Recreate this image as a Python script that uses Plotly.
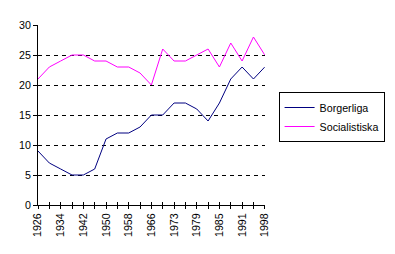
import plotly.graph_objects as go

years = ["1926", "1930", "1934", "1938", "1942", "1946", "1950", "1954", "1958", "1962",
         "1966", "1970", "1973", "1976", "1979", "1982", "1985", "1988", "1991", "1994", "1998"]
borgerliga = [9, 7, 6, 5, 5, 6, 11, 12, 12, 13, 15, 15, 17, 17, 16, 14, 17, 21, 23, 21, 23]
socialistiska = [21, 23, 24, 25, 25, 24, 24, 23, 23, 22, 20, 26, 24, 24, 25, 26, 23, 27, 24, 28, 25]
tick_text = [y if i % 2 == 0 else "" for i, y in enumerate(years)]
grid_vals = [5, 10, 15, 20, 25]

font = dict(family="Liberation Sans, Arial, sans-serif", size=10.7, color="black")

W, H = 395, 254
ML, MR, MT, MB = 38, 0, 25, 49
plot_w = 230
dom = [0, plot_w / (W - ML - MR)]

fig = go.Figure()
fig.add_trace(go.Scatter(x=years, y=borgerliga, name="Borgerliga", mode="lines",
                         line=dict(color="#000080", width=1)))
fig.add_trace(go.Scatter(x=years, y=socialistiska, name="Socialistiska", mode="lines",
                         line=dict(color="#FF00FF", width=1)))
# invisible trace to carry the cross-tick overlay axis
fig.add_trace(go.Scatter(x=years, y=borgerliga, xaxis="x2", yaxis="y2", mode="lines",
                         line=dict(width=0), showlegend=False, hoverinfo="skip", opacity=0))

fig.update_layout(
    width=W, height=H,
    margin=dict(l=ML, r=MR, t=MT, b=MB),
    paper_bgcolor="white", plot_bgcolor="white",
    font=font,
    showlegend=True,
    legend=dict(x=(282 - ML) / (W - ML - MR), y=(H - MB - 92) / (H - MT - MB),
                xanchor="left", yanchor="top",
                bordercolor="black", borderwidth=1, bgcolor="white",
                font=font, itemwidth=30, tracegroupgap=0, traceorder="normal"),
    xaxis=dict(type="category", range=[0, len(years) - 1], domain=dom,
               tickmode="array", tickvals=years, ticktext=tick_text,
               tickangle=-90, ticks="outside", ticklen=3, tickcolor="black",
               showline=True, linecolor="black", linewidth=1,
               showgrid=False, zeroline=False, tickfont=font),
    xaxis2=dict(type="category", range=[0, len(years) - 1], overlaying="x", anchor="y",
                domain=dom, tickmode="array", tickvals=years, showticklabels=False,
                ticks="inside", ticklen=3, tickcolor="black",
                showline=False, showgrid=False, zeroline=False),
    yaxis=dict(range=[0, 30], tickmode="array", tickvals=[0, 5, 10, 15, 20, 25, 30],
               ticks="outside", ticklen=4, tickcolor="black",
               showline=True, linecolor="black", linewidth=1,
               showgrid=False, zeroline=False, tickfont=font),
    yaxis2=dict(range=[0, 30], overlaying="y", anchor="x", tickmode="array",
                tickvals=grid_vals, showticklabels=False, ticks="",
                showgrid=True, gridcolor="black", gridwidth=1, griddash="4px,4px",
                showline=False, zeroline=False),
)

fig.write_html("out.html")
